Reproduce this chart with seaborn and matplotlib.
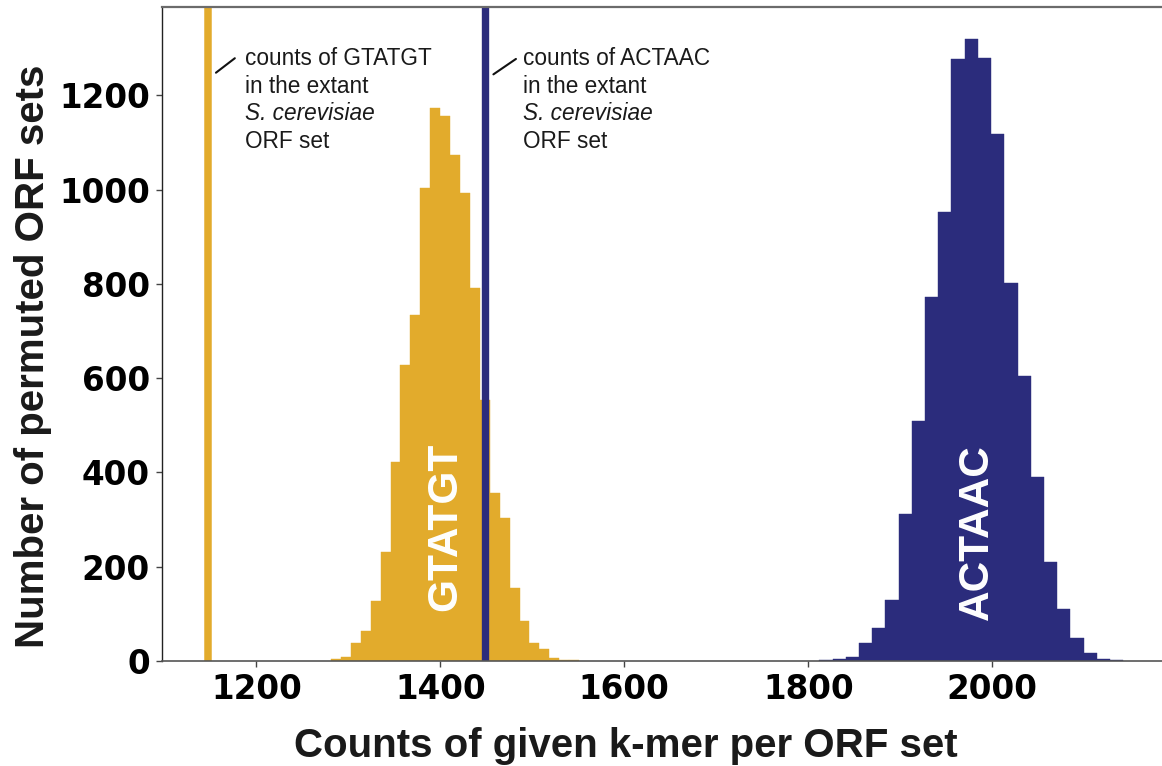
import numpy as np
import pandas as pd
import matplotlib
matplotlib.use("Agg")
import matplotlib.pyplot as plt
import seaborn as sns

# 置換ORFセットでのk-mer出現数の分布
gtatgt_counts = [4, 9, 38, 64, 128, 232, 422, 627, 733, 1004, 1174, 1157, 1074,
                 992, 791, 554, 357, 304, 155, 85, 39, 25, 6, 2, 2]
gtatgt_range = (1281.2, 1550.8)
actaac_counts = [2, 4, 9, 38, 71, 130, 311, 509, 772, 952, 1276, 1319, 1279,
                 1118, 801, 605, 390, 211, 110, 49, 17, 4, 2]
actaac_range = (1812.0, 2142.4)

# 実際のS. cerevisiae ORFセットでの出現数
gtatgt_observed = 1147.8
actaac_observed = 1448.6

kmer_names = ['GTATGT', 'ACTAAC']
kmer_colors = ['#E2AB2C', '#2B2C7C']

x_ticks = [1200, 1400, 1600, 1800, 2000]
y_ticks = [0, 200, 400, 600, 800, 1000, 1200]

sns.set_style("ticks")
plt.rcParams['font.family'] = ['Liberation Sans', 'DejaVu Sans']


def hist_frame(counts, rng):
    width = (rng[1] - rng[0]) / len(counts)
    centers = rng[0] + width * (np.arange(len(counts)) + 0.5)
    return pd.DataFrame({'count': centers, 'n': counts}), width


fig = plt.figure(figsize=(11.62, 7.66), dpi=100)
ax = fig.add_axes([0.1397, 0.1371, 0.8603, 0.8542])

for counts, rng, col in [(gtatgt_counts, gtatgt_range, kmer_colors[0]),
                         (actaac_counts, actaac_range, kmer_colors[1])]:
    df, width = hist_frame(counts, rng)
    sns.histplot(data=df, x='count', weights='n', binwidth=width, binrange=rng,
                 color=col, alpha=1, edgecolor=col, linewidth=0.3, ax=ax)

ax.axvline(gtatgt_observed, color=kmer_colors[0], lw=5.4)
ax.axvline(actaac_observed, color=kmer_colors[1], lw=5.3)

# 注釈
notes = [(kmer_names[0], (1156.1, 1247.9, 1176.6, 1278.6), 1187.7),
         (kmer_names[1], (1457.7, 1244.4, 1482.2, 1277.1), 1489.9)]
line_y = [1263.5, 1205.2, 1146.9, 1088.6]
for name, seg, tx in notes:
    ax.plot([seg[0], seg[2]], [seg[1], seg[3]], color='#111111', lw=1.5)
    lines = [f'counts of {name}', 'in the extant', 'S. cerevisiae', 'ORF set']
    for i, t in enumerate(lines):
        ax.text(tx, line_y[i], t, fontsize=16.3, color='#1a1a1a', va='baseline',
                ha='left', fontstyle='italic' if i == 2 else 'normal')

# 分布内のラベル
ax.text(1405, 284.7, kmer_names[0], rotation=90, color='white', fontsize=30.5,
        fontweight='bold', ha='center', va='center')
ax.text(1983, 273.5, kmer_names[1], rotation=90, color='white', fontsize=30.5,
        fontweight='bold', ha='center', va='center')

ax.set_xlim(1097.8, 2184.5)
ax.set_ylim(0, 1388)
ax.set_xticks(x_ticks)
ax.set_yticks(y_ticks)
for lab in ax.get_xticklabels() + ax.get_yticklabels():
    lab.set_family('DejaVu Sans')
    lab.set_fontweight('bold')
    lab.set_fontsize(23.5)
    lab.set_color('black')
ax.tick_params(axis='both', direction='out', length=4.3, width=1.0,
               color='#444444', pad=4.5)

ax.set_xlabel('Counts of given k-mer per ORF set', fontsize=29, fontweight='bold',
              color='#1a1a1a')
ax.set_ylabel('Number of permuted ORF sets', fontsize=29, fontweight='bold',
              color='#1a1a1a')
ax.xaxis.set_label_coords(0.4638, -0.1004)
ax.yaxis.set_label_coords(-0.1103, 0.4661)

ax.spines['right'].set_visible(False)
ax.spines['top'].set_color('#6b6b6b')
ax.spines['top'].set_linewidth(1.6)
ax.spines['bottom'].set_color('#555555')
ax.spines['bottom'].set_linewidth(1.2)
ax.spines['left'].set_color('#222222')
ax.spines['left'].set_linewidth(1.0)

fig.savefig('out.png', dpi=100)
plt.close(fig)
